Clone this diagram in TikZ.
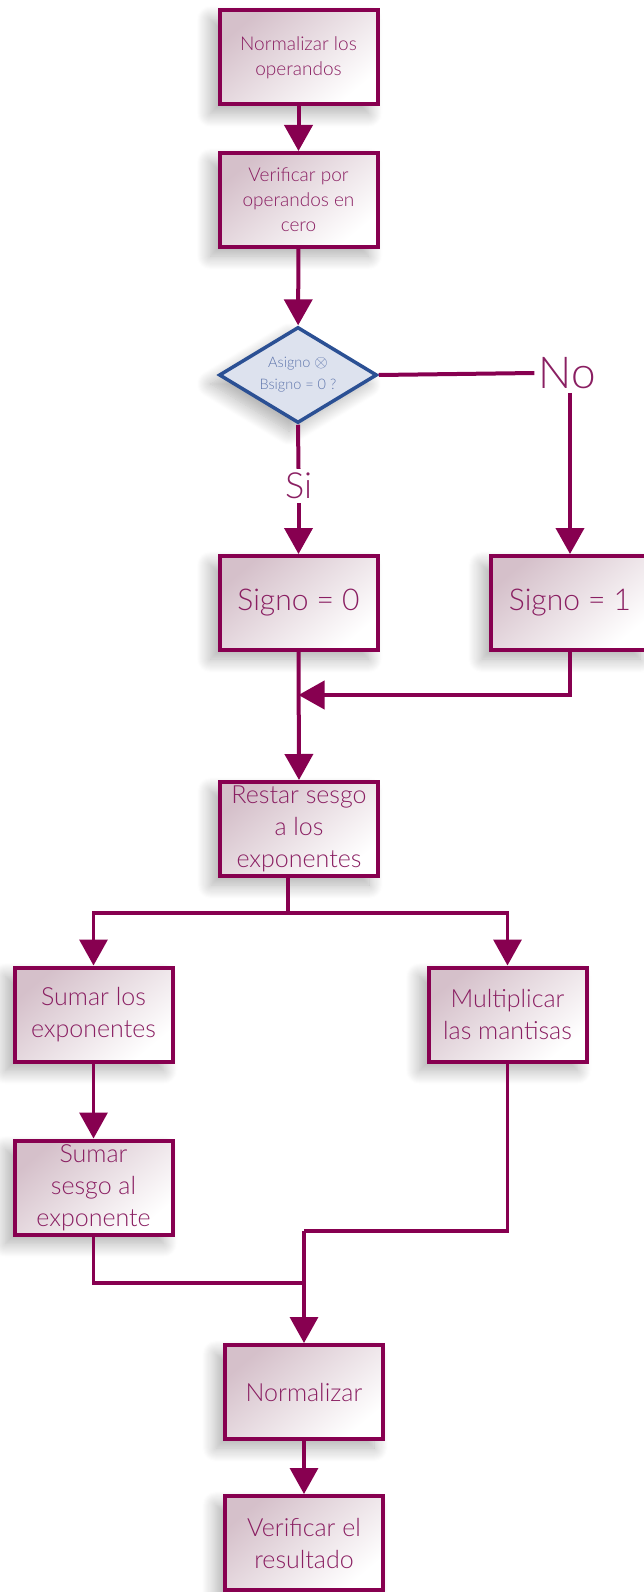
\documentclass[tikz,border=0pt]{standalone}
\usepackage{fontspec}
\setmainfont{Lato}[UprightFont=* Light]
\usetikzlibrary{arrows.meta,shapes.geometric,shadows.blur}

\definecolor{plum}{HTML}{870050}
\definecolor{plumtext}{HTML}{8A1F62}
\definecolor{boxtop}{HTML}{D5C0CA}
\definecolor{diablue}{HTML}{2B5094}
\definecolor{diafill}{HTML}{DDE2EE}
\definecolor{diatext}{HTML}{5E75AC}

\tikzset{
  softshadow/.style={blur shadow={shadow xshift=-9pt, shadow yshift=-9pt,
      shadow blur radius=14pt, shadow blur steps=14, shadow opacity=32}},
  procbox/.style={rectangle, draw=plum, line width=4pt,
      minimum width=158pt, minimum height=94pt, inner sep=2pt,
      align=center, text=plumtext,
      top color=boxtop, bottom color=white, shading angle=40,
      softshadow},
  smalltxt/.style={font=\fontsize{19}{25}\selectfont},
  midtxt/.style={font=\fontsize{25}{32}\selectfont},
  bigtxt/.style={font=\fontsize{30}{32}\selectfont},
  decision/.style={diamond, draw=diablue, fill=diafill, line width=3.5pt,
      minimum width=158pt, minimum height=96pt, inner sep=0pt, aspect=1.7,
      align=center, text=diatext, font=\fontsize{14.5}{22}\selectfont,
      softshadow},
  flow/.style={draw=plum, line width=4pt},
  thinflow/.style={draw=plum, line width=3.3pt},
  tip/.style={-{Triangle[width=28pt,length=26pt]}},
  answer/.style={text=plumtext, inner sep=4pt}
}

\begin{document}
\begin{tikzpicture}[x=1pt, y=-1pt]
  \useasboundingbox (0,0) rectangle (643,1592);

  % process steps
  \node[procbox, smalltxt] (n1) at (298.5,57.5) {Normalizar los\\operandos};
  \node[procbox, smalltxt] (n2) at (298.5,200) {Verificar por\\operandos en\\cero};
  \node[decision] (dia) at (298,375) {Asigno {\fontsize{17}{17}\selectfont$\otimes$}\\Bsigno = 0 ?};
  \node[procbox, bigtxt] (s0) at (298.5,603) {Signo = 0};
  \node[procbox, bigtxt] (s1) at (570,603) {Signo = 1};
  \node[procbox, midtxt] (restar) at (299,829) {Restar sesgo\\a los\\exponentes};
  \node[procbox, midtxt] (sumar) at (93.5,1014.5) {Sumar los\\exponentes};
  \node[procbox, midtxt] (mult) at (507.5,1014.5) {Multiplicar\\las mantisas};
  \node[procbox, midtxt] (sesgo) at (93.5,1187.5) {Sumar\\sesgo al\\exponente};
  \node[procbox, midtxt] (norm) at (304,1392) {Normalizar};
  \node[procbox, midtxt] (verif) at (304,1543) {Verificar el\\resultado};

  % branch labels
  \node[answer, font=\fontsize{44}{44}\selectfont] (no) at (567,373) {No};
  \node[answer, font=\fontsize{36}{36}\selectfont] (si) at (298.5,486) {Si};

  % junction points
  \coordinate (m) at (298.5,695);
  \coordinate (sp) at (288,913);
  \coordinate (j) at (304,1231);
  \coordinate (k) at (304,1283);

  % connectors
  \draw[flow, tip] (n1) -- (n2);
  \draw[flow, tip] (n2) -- (dia);
  \draw[flow] (dia.east) -- (no.west);
  \draw[flow, tip] (s1.north |- no.south) -- (s1.north);
  \draw[flow] (dia.south) -- (si.north);
  \draw[flow, tip] (si.south) -- (s0.north);
  \draw[flow, tip] (s1.south) |- (m);
  \draw[flow, tip] (s0.south) -- (restar.north);
  \draw[thinflow] (sp |- restar.south) -- (sp);
  \draw[thinflow, tip] (sp) -| (sumar.north);
  \draw[thinflow, tip] (sp) -| (mult.north);
  \draw[thinflow, tip] (sumar.south) -- (sesgo.north);
  \draw[thinflow] (mult.south) |- (j);
  \draw[thinflow] (sesgo.south) |- (k);
  \draw[thinflow, tip] (j) -- (norm.north);
  \draw[thinflow, tip] (norm.south) -- (verif.north);
\end{tikzpicture}
\end{document}
